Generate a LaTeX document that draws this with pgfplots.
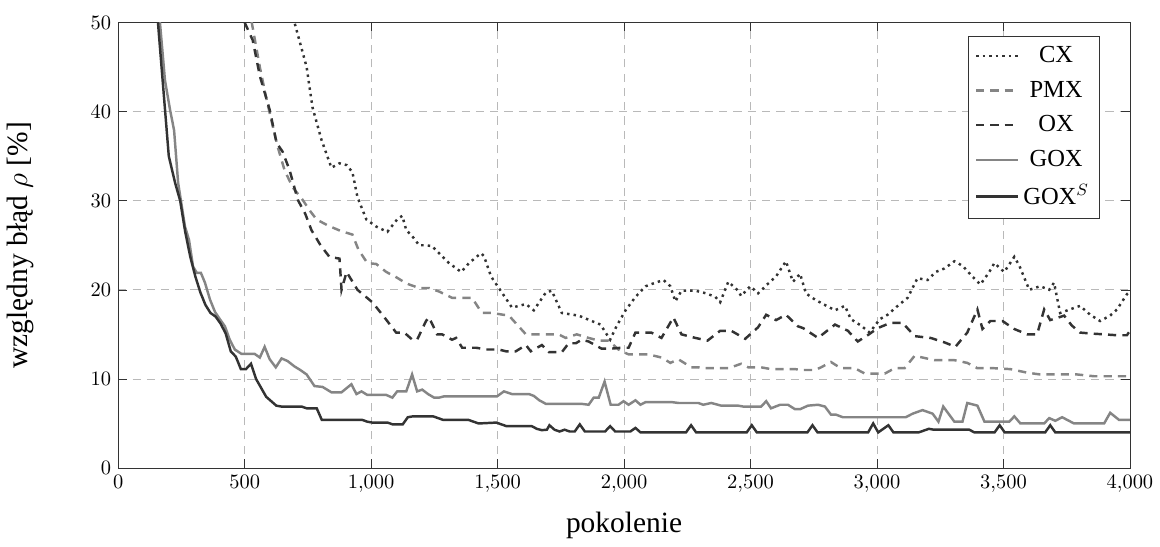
\documentclass[border=0pt]{standalone}
\usepackage{fontspec}
\setmainfont{Liberation Serif}
\usepackage{pgfplots}
\pgfplotsset{compat=1.18}
\definecolor{darkline}{HTML}{333333}
\definecolor{lightline}{HTML}{858585}

\begin{document}
\begin{tikzpicture}
\begin{axis}[
    scale only axis,
    width=495pt, height=218pt,
    xmin=0, xmax=4000, ymin=0, ymax=50,
    xtick={0,500,...,4000},
    ytick={0,10,...,50},
    tick label style={font=\normalsize},
    grid=major,
    major grid style={dash pattern=on 4pt off 3pt, gray!55, thin},
    axis line style={darkline},
    tick style={darkline},
    xlabel={\Large pokolenie},
    ylabel={\Large względny błąd $\rho$ [$\%$]},
    xlabel style={yshift=-3pt},
    ylabel style={yshift=21pt},
    legend pos=north east,
    legend cell align=center,
    legend style={font=\large, draw=darkline, row sep=3.5pt, inner sep=3pt},
    legend image code/.code={\draw[#1] (0cm,0cm) -- (0.72cm,0cm);},
]
% CX
\addplot[darkline, very thick, dotted] coordinates {
(640,57)(697,50)(745,45)(768,40.5)(804,36.8)(843,33.7)(875,34.2)(903,34.0)(926,33.2)(946,30.4)
(981,27.9)(1020,27.1)(1064,26.5)(1103,27.9)(1123,28.3)(1139,26.7)(1163,26.0)(1190,25.0)(1217,25.0)
(1241,24.9)(1269,24.1)(1308,23.0)(1356,22.0)(1387,23.0)(1434,24.1)(1446,23.8)(1474,21.5)(1505,20.2)
(1557,18.0)(1612,18.4)(1643,17.7)(1691,19.7)(1714,19.9)(1754,17.4)(1821,17.1)(1872,16.5)(1907,16.1)
(1927,15.2)(1945,14.4)(1970,15.9)(2006,17.7)(2045,19.2)(2085,20.4)(2124,20.8)(2156,21.1)(2183,20.4)
(2203,18.7)(2227,19.9)(2282,19.9)(2325,19.6)(2361,19.2)(2380,18.6)(2412,20.9)(2451,19.9)(2463,19.3)
(2499,20.4)(2530,19.6)(2562,20.5)(2601,21.5)(2640,23.2)(2668,20.9)(2696,21.8)(2719,19.6)(2755,18.9)
(2794,18.3)(2834,17.7)(2873,18.2)(2897,16.7)(2936,16.0)(2971,15.2)(3011,16.7)(3042,17.2)(3082,18.2)
(3121,19.1)(3160,21.3)(3200,21.1)(3232,22.0)(3267,22.4)(3306,23.2)(3338,22.7)(3377,21.5)(3409,20.6)
(3444,22.0)(3464,23.0)(3503,22.0)(3543,23.7)(3563,22.7)(3602,20.0)(3645,20.4)(3681,20.0)(3700,20.8)
(3724,17.4)(3763,17.8)(3803,18.2)(3843,17.2)(3882,16.5)(3922,17.1)(3949,17.8)(3988,19.5)(4000,19.8)
};
\addlegendentry{CX}
% PMX
\addplot[lightline, very thick, dash pattern=on 4pt off 3pt] coordinates {
(480,58)(528,50)(560,45)(587,41.3)(610,38.5)(631,36)(658,33.4)(690,31.5)(729,30.1)(760,28.8)
(784,27.9)(830,27.2)(880,26.6)(926,26.2)(950,24.5)(985,23.0)(1020,22.9)(1060,22.0)(1100,21.4)
(1123,21.0)(1150,20.6)(1190,20.2)(1229,20.2)(1269,19.8)(1320,19.1)(1399,19.1)(1438,17.4)(1478,17.4)
(1545,17.1)(1580,16.0)(1612,15.0)(1742,15.0)(1769,14.6)(1813,15.0)(1860,14.6)(1900,14.3)(1939,14.3)
(1978,13.3)(2018,12.75)(2097,12.75)(2148,12.4)(2183,11.8)(2215,12.2)(2266,11.3)(2294,11.3)(2305,11.2)
(2412,11.2)(2463,11.7)(2491,11.3)(2542,11.3)(2581,11.1)(2676,11.1)(2700,11.0)(2755,11.0)(2779,11.3)
(2818,11.9)(2857,11.2)(2912,11.2)(2952,10.6)(3031,10.6)(3070,11.2)(3109,11.2)(3149,12.6)(3227,12.1)
(3306,12.1)(3357,11.8)(3397,11.2)(3464,11.2)(3527,11.1)(3594,10.7)(3645,10.5)(3791,10.5)(3858,10.3)
(4000,10.3)
};
\addlegendentry{PMX}
% OX
\addplot[darkline, very thick, dash pattern=on 4pt off 3pt] coordinates {
(470,58)(500,50)(532,48)(560,44)(599,40.2)(626,36.5)(650,35.5)(678,33.4)(710,30.1)(740,28.5)
(764,26.7)(800,25.0)(835,23.7)(875,23.5)(883,20.0)(903,22.0)(946,20.0)(1005,18.6)(1050,17.0)
(1099,15.2)(1131,15.2)(1163,14.4)(1182,14.4)(1217,16.5)(1229,16.9)(1261,15.0)(1281,15.0)(1320,14.4)
(1336,14.6)(1360,13.5)(1415,13.5)(1454,13.3)(1505,13.3)(1533,13.1)(1572,13.1)(1612,13.8)(1631,13.1)
(1675,13.8)(1703,13.0)(1754,13.0)(1781,14.0)(1809,14.0)(1833,14.4)(1860,14.2)(1911,13.4)(1951,13.4)
(1990,13.5)(2018,13.5)(2045,15.2)(2108,15.2)(2148,14.6)(2195,16.9)(2227,15.0)(2282,14.6)(2330,14.3)
(2380,15.4)(2424,15.4)(2479,14.5)(2530,15.8)(2562,17.2)(2601,16.6)(2640,17.2)(2688,15.9)(2708,15.7)
(2767,14.6)(2834,16.1)(2885,15.4)(2924,14.2)(2963,14.9)(3003,15.7)(3054,16.3)(3101,16.3)(3149,14.8)
(3212,14.6)(3267,14.1)(3310,13.6)(3357,15.2)(3397,17.8)(3417,15.6)(3448,16.5)(3496,16.5)(3543,15.6)
(3594,15.0)(3633,15.0)(3661,17.8)(3685,16.6)(3740,17.1)(3770,16.0)(3803,15.2)(3843,15.1)(3898,15.0)
(3949,14.9)(3988,14.9)(4000,15.4)
};
\addlegendentry{OX}
% GOX
\addplot[lightline, very thick] coordinates {
(130,65)(165,50)(185,43.5)(205,40.2)(221,37.9)(237,32)(264,27.1)(280,25.6)(296,22.6)(311,21.9)
(327,21.9)(343,20.8)(363,18.9)(383,17.5)(402,16.7)(422,15.9)(441,14.4)(461,13.3)(488,12.8)(540,12.8)
(560,12.4)(579,13.6)(599,12.2)(623,11.3)(646,12.3)(670,12.0)(697,11.4)(720,11.0)(745,10.5)(776,9.2)
(808,9.1)(843,8.5)(883,8.5)(922,9.4)(942,8.3)(962,8.6)(985,8.2)(1060,8.2)(1084,7.9)(1103,8.6)
(1139,8.6)(1162,10.5)(1182,8.6)(1202,8.8)(1225,8.3)(1249,7.9)(1269,7.9)(1289,8.05)(1498,8.05)
(1525,8.6)(1557,8.3)(1624,8.3)(1643,8.1)(1665,7.6)(1691,7.2)(1833,7.2)(1860,7.1)(1880,7.9)(1900,7.9)
(1923,9.7)(1947,7.1)(1978,7.1)(1998,7.5)(2018,7.1)(2045,7.6)(2065,7.1)(2085,7.4)(2187,7.4)(2215,7.3)
(2294,7.3)(2313,7.1)(2345,7.3)(2384,7.0)(2451,7.0)(2471,6.9)(2542,6.9)(2562,7.5)(2581,6.7)(2617,7.1)
(2648,7.1)(2676,6.6)(2696,6.6)(2727,7.0)(2767,7.1)(2794,6.9)(2818,6.0)(2837,6.0)(2865,5.7)(3113,5.7)
(3141,6.1)(3180,6.5)(3220,6.1)(3243,5.2)(3262,6.9)(3306,5.2)(3338,5.2)(3357,7.3)(3397,7.0)(3425,5.2)
(3523,5.2)(3543,5.8)(3567,5.0)(3661,5.0)(3681,5.6)(3705,5.3)(3732,5.7)(3779,5.0)(3898,5.0)(3922,6.2)
(3957,5.4)(4000,5.4)
};
\addlegendentry{GOX}
% GOX^S
\addplot[darkline, very thick] coordinates {
(120,64)(160,49)(200,35)(225,32)(245,30)(265,26.5)(285,23.7)(305,21.5)(325,19.7)(345,18.3)
(365,17.4)(385,17.0)(405,16.2)(425,15.1)(445,13.1)(465,12.5)(485,11.1)(505,11.1)(525,11.7)(545,10.0)
(565,9.0)(585,8.0)(605,7.5)(625,7.0)(645,6.9)(725,6.9)(745,6.7)(785,6.7)(805,5.4)(965,5.4)(985,5.2)
(1005,5.1)(1065,5.1)(1085,4.9)(1125,4.9)(1145,5.7)(1165,5.8)(1245,5.8)(1285,5.4)(1385,5.4)(1425,5.0)
(1495,5.1)(1535,4.7)(1635,4.7)(1655,4.4)(1675,4.25)(1695,4.3)(1705,4.8)(1725,4.3)(1745,4.1)(1765,4.3)
(1785,4.1)(1805,4.1)(1825,4.9)(1845,4.1)(1925,4.1)(1945,4.7)(1965,4.1)(2025,4.1)(2045,4.5)(2065,4.0)
(2245,4.0)(2265,4.8)(2285,4.0)(2485,4.0)(2505,4.8)(2525,4.0)(2725,4.0)(2745,4.8)(2765,4.0)(2965,4.0)
(2985,5.0)(3005,4.0)(3045,4.8)(3065,4.0)(3165,4.0)(3205,4.4)(3225,4.3)(3365,4.3)(3385,4.0)(3465,4.0)
(3485,4.8)(3505,4.0)(3665,4.0)(3685,4.8)(3705,4.0)(4000,4.0)
};
\addlegendentry{GOX$^S$}
\end{axis}
\path (current axis.north) ++(0,11pt);
\end{tikzpicture}
\end{document}
